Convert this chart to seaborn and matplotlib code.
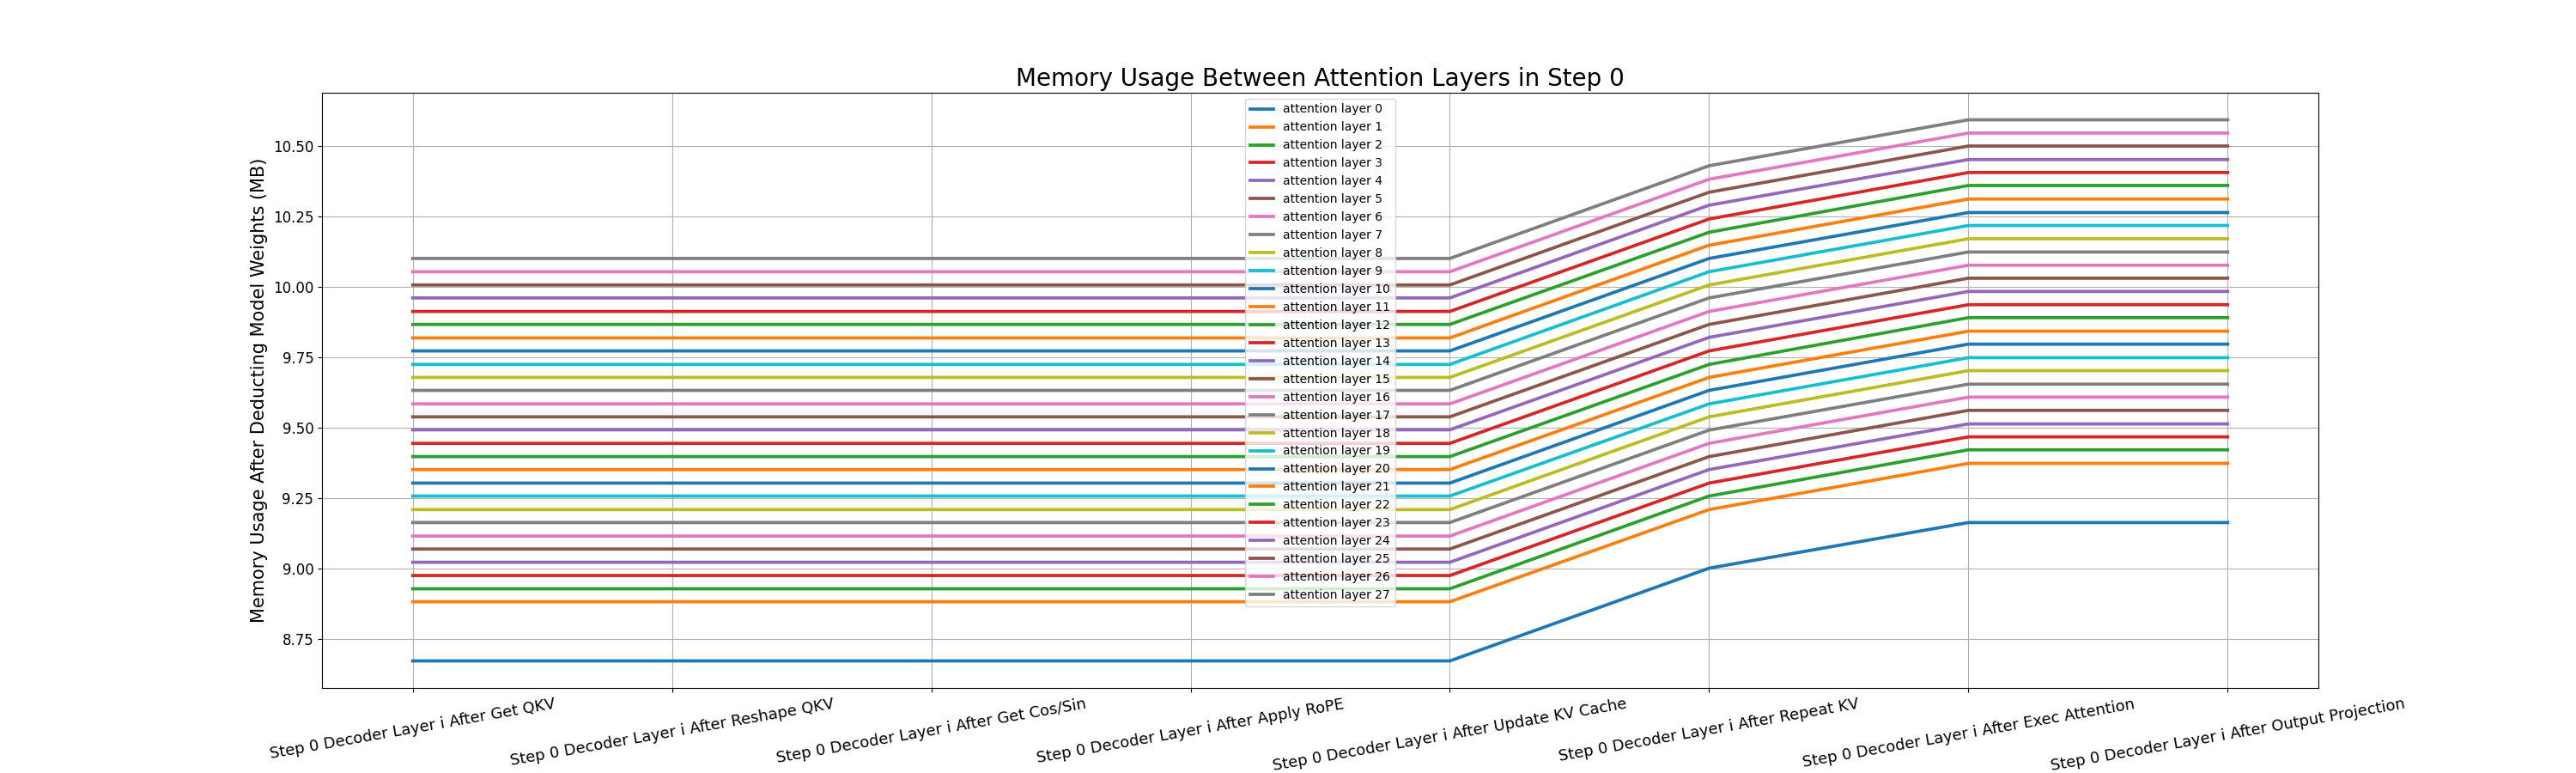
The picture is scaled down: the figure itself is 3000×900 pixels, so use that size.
import pandas as pd
import seaborn as sns
import matplotlib.pyplot as plt

steps = ['Step 0 Decoder Layer i After Get QKV',
         'Step 0 Decoder Layer i After Reshape QKV',
         'Step 0 Decoder Layer i After Get Cos/Sin',
         'Step 0 Decoder Layer i After Apply RoPE',
         'Step 0 Decoder Layer i After Update KV Cache',
         'Step 0 Decoder Layer i After Repeat KV',
         'Step 0 Decoder Layer i After Exec Attention',
         'Step 0 Decoder Layer i After Output Projection']

layers = ['attention layer %d' % i for i in range(28)]

# memory (MB) per layer
before_repeat = [8.672, 8.882, 8.928, 8.975, 9.022, 9.069, 9.115, 9.163, 9.209, 9.257,
                 9.303, 9.351, 9.397, 9.444, 9.492, 9.538, 9.584, 9.632, 9.678, 9.724,
                 9.772, 9.818, 9.866, 9.912, 9.960, 10.006, 10.053, 10.100]
after_repeat = [9.001, 9.209, 9.257, 9.303, 9.351, 9.397, 9.444, 9.491, 9.538, 9.584,
                9.632, 9.678, 9.724, 9.772, 9.820, 9.866, 9.912, 9.960, 10.006, 10.053,
                10.100, 10.147, 10.193, 10.240, 10.289, 10.335, 10.381, 10.429]
after_exec = [9.163, 9.373, 9.421, 9.467, 9.513, 9.561, 9.608, 9.654, 9.702, 9.748,
              9.796, 9.842, 9.890, 9.936, 9.983, 10.030, 10.076, 10.123, 10.170, 10.217,
              10.263, 10.311, 10.359, 10.405, 10.451, 10.499, 10.545, 10.592]
after_output = [9.163, 9.373, 9.421, 9.467, 9.513, 9.561, 9.608, 9.654, 9.702, 9.748,
                9.796, 9.842, 9.890, 9.936, 9.983, 10.030, 10.076, 10.123, 10.170, 10.217,
                10.263, 10.311, 10.359, 10.405, 10.451, 10.499, 10.545, 10.592]

rows = []
for i, layer in enumerate(layers):
    vals = [before_repeat[i]] * 5 + [after_repeat[i], after_exec[i], after_output[i]]
    for s, v in zip(steps, vals):
        rows.append({'step': s, 'memory': v, 'layer': layer})
df = pd.DataFrame(rows)

fig, ax = plt.subplots(figsize=(30, 9), dpi=100)
sns.lineplot(data=df, x='step', y='memory', hue='layer', hue_order=layers,
             palette=sns.color_palette('tab10', n_colors=28), linewidth=2.7,
             sort=False, ax=ax)
ax.grid(True)
ax.set_title('Memory Usage Between Attention Layers in Step 0', fontsize=20)
ax.set_xlabel('')
ax.set_ylabel('Memory Usage After Deducting Model Weights (MB)', fontsize=15)
ax.tick_params(axis='y', labelsize=12)
ax.set_xticks(range(len(steps)))
ax.set_xticklabels(steps, rotation=10, ha='center', fontsize=13)
ax.legend(loc='upper center', fontsize=10)

plt.savefig('out.png')
